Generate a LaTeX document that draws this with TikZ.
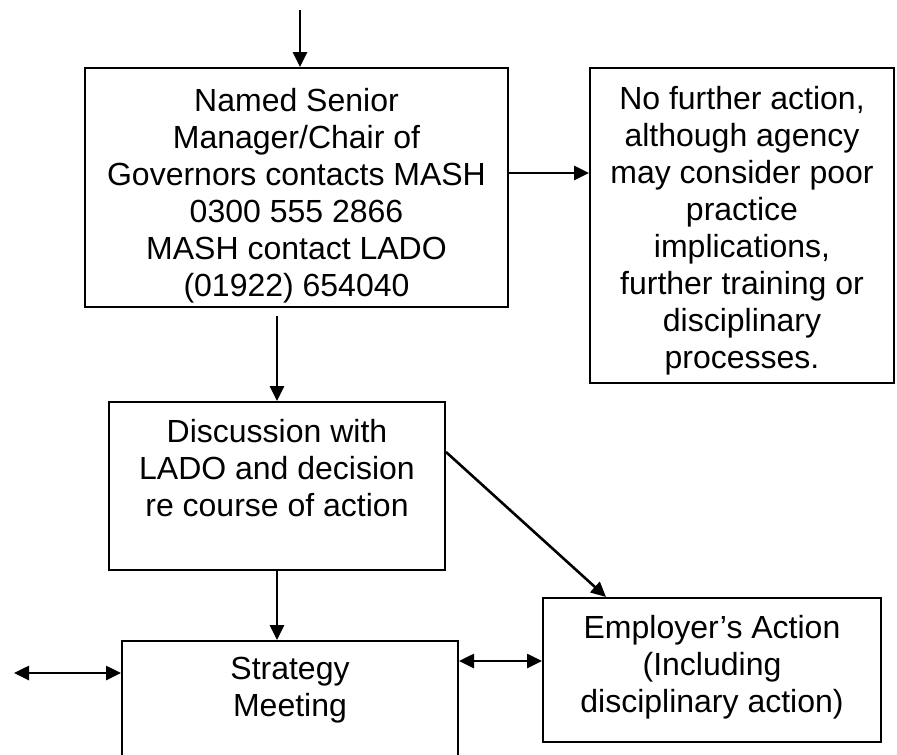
\documentclass[tikz,border=0pt]{standalone}
\usepackage{fontspec}
\setmainfont{Liberation Sans}
\usetikzlibrary{arrows.meta}
\newcommand{\boxtxt}[4]{\begin{minipage}[c][#2][t]{#1}\centering\vspace*{#3}#4\end{minipage}}

\begin{document}
\begin{tikzpicture}[x=1pt, y=-1pt, font=\fontsize{32}{37}\selectfont,
  flowbox/.style={draw, line width=2pt, inner sep=0pt},
  arr/.style={line width=2.6pt, -{Triangle[length=15pt,width=14pt]}},
  dblarr/.style={line width=2.6pt, {Triangle[length=15pt,width=14pt]}-{Triangle[length=15pt,width=14pt]}}]
  \useasboundingbox (0,0) rectangle (897,755);
  \node[flowbox] (mgr) at (296.5,187.5) {\boxtxt{423pt}{239pt}{20pt}{Named Senior\\Manager/Chair of\\Governors contacts MASH\\0300 555 2866\\MASH contact LADO\\(01922) 654040}};
  \node[flowbox] (nfa) at (742,225.5) {\boxtxt{304pt}{315pt}{18.5pt}{No further action,\\although agency\\may consider poor\\practice\\implications,\\further training or\\disciplinary\\processes.}};
  \node[flowbox] (lado) at (277,486) {\boxtxt{336pt}{168pt}{17pt}{Discussion with\\LADO and decision\\re course of action}};
  \node[flowbox] (strat) at (290,720) {\boxtxt{336pt}{158pt}{16pt}{Strategy\\Meeting}};
  \node[flowbox] (emp) at (712,670) {\boxtxt{338pt}{144pt}{17pt}{Employer’s Action\\(Including\\disciplinary action)}};
  \coordinate (src) at (300,10);
  \coordinate (ext) at (14,673);

  \draw[arr] (src) -- (src |- mgr.north);
  \draw[arr] ([yshift=14.5pt]mgr.east) -- ([yshift=14.5pt]mgr.east -| nfa.west);
  \draw[arr] ([yshift=-8pt]mgr.south -| lado.north) -- (lado.north);
  \draw[arr] (lado.south) -- (lado.south |- strat.north);
  \draw[arr] ([yshift=34pt]lado.east) -- ([xshift=-106pt]emp.north);
  \draw[dblarr] ([yshift=9pt]emp.west) -- ([yshift=9pt]emp.west -| strat.east);
  \draw[dblarr] (ext) -- (ext -| strat.west);
\end{tikzpicture}
\end{document}
